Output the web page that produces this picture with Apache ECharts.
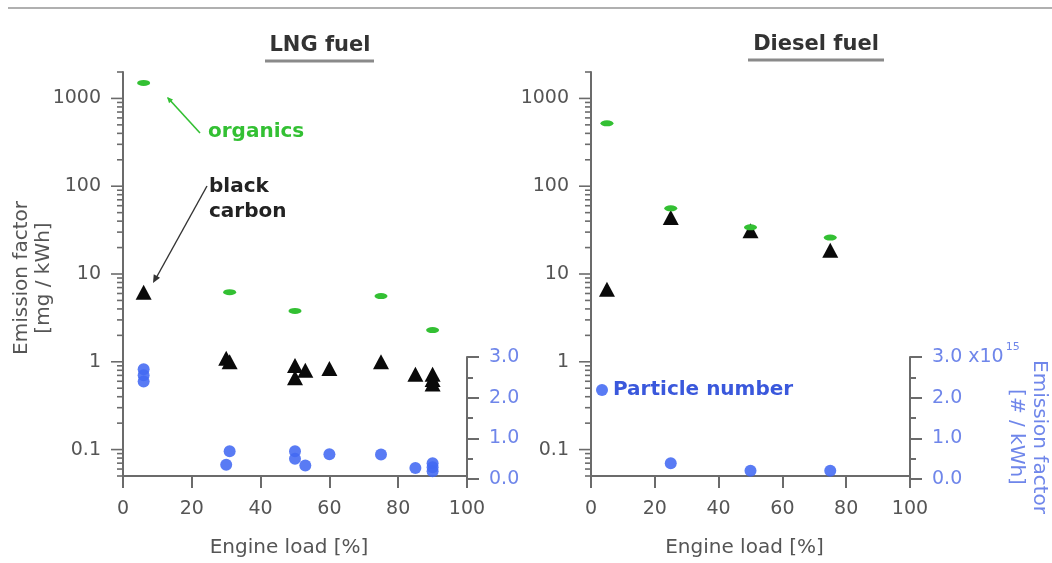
<!DOCTYPE html>
<html><head><meta charset="utf-8">
<script src="https://cdn.jsdelivr.net/npm/echarts@6/dist/echarts.min.js"></script>
<style>html,body{margin:0;padding:0;background:#fff}#c{width:1052px;height:563px}</style>
</head><body><div id="c"></div>
<script>
// ---- data (engine load %, value) ----
const lngOrganics = [[6,1500],[31,6.2],[50,3.8],[75,5.6],[90,2.3]];
const lngBlackCarbon = [[6,6.2],[30,1.1],[31,1.0],[50,0.91],[50,0.66],[53,0.8],[60,0.84],[75,1.0],[85,0.72],[90,0.72],[90,0.63],[90,0.56]];
const lngParticleNumber = [[6,2.7],[6,2.55],[6,2.4],[30,0.35],[31,0.68],[50,0.68],[50,0.5],[53,0.33],[60,0.61],[75,0.6],[85,0.27],[90,0.39],[90,0.29],[90,0.19]];
const dieselOrganics = [[5,520],[25,56],[50,34],[75,26]];
const dieselBlackCarbon = [[5,6.7],[25,44],[50,31],[75,18.6]];
const dieselParticleNumber = [[25,0.39],[50,0.2],[75,0.2]];
// ---- axis tick values ----
const logMajorTicks = [0.1,1,10,100,1000];
const logMinorTicks = [0.05,0.06,0.07,0.08,0.09,0.2,0.3,0.4,0.5,0.6,0.7,0.8,0.9,2,3,4,5,6,7,8,9,20,30,40,50,60,70,80,90,200,300,400,500,600,700,800,900,2000];
const titles = ['LNG fuel','Diesel fuel'];

const FONT = '"DejaVu Sans", Verdana, sans-serif';
const AX = '#6b6b6b', LBL = '#555', BLUE_LBL = '#6f86ea', GREEN = '#33c033', PN = 'rgba(66,105,242,0.88)';

const chart = echarts.init(document.getElementById('c'), null, {renderer:'canvas'});

const grids = [
  {left:123, top:72, width:344, height:407},
  {left:123, top:357, width:344, height:122},
  {left:591, top:72, width:319, height:407},
  {left:591, top:357, width:319, height:122}
];

function mainX(gi){
  return {gridIndex:gi, type:'value', min:0, max:100, interval:20,
    axisLine:{show:true, onZero:false, lineStyle:{color:AX, width:2}},
    axisTick:{show:true, length:12, lineStyle:{color:AX, width:2}},
    axisLabel:{fontSize:19, color:LBL, margin:24, fontFamily:FONT},
    splitLine:{show:false},
    name:'Engine load [%]', nameLocation:'middle', nameGap:62,
    nameTextStyle:{fontSize:20, color:LBL, fontFamily:FONT, padding:[0,12,0,0]}};
}
function hiddenX(gi){ return {gridIndex:gi, type:'value', min:0, max:100, show:false}; }
function logY(gi){
  return {gridIndex:gi, type:'log', logBase:10, min:0.05, max:2000,
    axisLine:{show:true, onZero:false, lineStyle:{color:AX, width:2}},
    axisTick:{show:false},
    axisLabel:{fontSize:19, color:LBL, margin:22, fontFamily:FONT,
      formatter:function(v){const l=Math.log10(v);return Math.abs(l-Math.round(l))<1e-6?String(+v.toPrecision(3)):'';}},
    splitLine:{show:false}};
}
function pnY(gi, sup){
  return {gridIndex:gi, type:'value', min:0, max:3, interval:1, position:'right',
    axisLine:{show:true, onZero:false, lineStyle:{color:AX, width:2}},
    axisTick:{show:true, length:12, lineStyle:{color:AX, width:2}},
    minorTick:{show:true, splitNumber:2, length:6, lineStyle:{color:AX, width:2}},
    axisLabel:{fontSize:19, color:BLUE_LBL, margin:22, fontFamily:FONT,
      formatter:function(v){ if(sup && v===3) return '3.0 x10{sup|15}'; return v.toFixed(1); },
      rich:{sup:{fontSize:11, color:BLUE_LBL, fontFamily:FONT, padding:[0,0,20,2]}}},
    splitLine:{show:false}, minorSplitLine:{show:false}};
}

function tickSeries(xi, yi, vals, len){
  return {type:'custom', xAxisIndex:xi, yAxisIndex:yi, silent:true, clip:false, z:1,
    data: vals.map(v=>[0,v]),
    renderItem:function(params, api){
      const p = api.coord([0, api.value(1)]);
      return {type:'line', shape:{x1:p[0]-len, y1:p[1], x2:p[0], y2:p[1]},
        style:{stroke:AX, lineWidth:1.6}};
    }};
}
function bc(xi, yi, d){ return {name:'black carbon', type:'scatter', xAxisIndex:xi, yAxisIndex:yi, data:d, symbol:'triangle', symbolSize:[16,15], itemStyle:{color:'#0a0a0a', opacity:1}, z:3}; }
function org(xi, yi, d){ return {name:'organics', type:'scatter', xAxisIndex:xi, yAxisIndex:yi, data:d, symbol:'circle', symbolSize:[13,6], itemStyle:{color:GREEN, opacity:1}, z:4}; }
function pn(xi, yi, d){ return {name:'Particle number', type:'scatter', xAxisIndex:xi, yAxisIndex:yi, data:d, symbol:'circle', symbolSize:12, itemStyle:{color:PN, opacity:1}, z:2}; }

function txt(x, y, s, size, color, bold, rot){
  return {type:'text', x:x, y:y, rotation:rot||0, silent:true,
    style:{text:s, fill:color, fontSize:size, fontWeight:bold?'bold':'normal', fontFamily:FONT,
      align:'center', verticalAlign:'middle', textAlign:'center', textVerticalAlign:'middle'}};
}
function ln(x1,y1,x2,y2,color,w){ return {type:'line', silent:true, shape:{x1,y1,x2,y2}, style:{stroke:color, lineWidth:w}}; }
function arrowHead(x1,y1,x2,y2,color,size){
  const dx=x2-x1, dy=y2-y1, L=Math.hypot(dx,dy), ux=dx/L, uy=dy/L;
  const bx=x2-ux*size, by=y2-uy*size, w=size*0.45;
  return {type:'polygon', silent:true, shape:{points:[[x2,y2],[bx-uy*w,by+ux*w],[bx+uy*w,by-ux*w]]}, style:{fill:color}};
}

const option = {
  backgroundColor:'#fff',
  animation:false,
  grid: grids,
  xAxis:[mainX(0), hiddenX(1), mainX(2), hiddenX(3)],
  yAxis:[logY(0), pnY(1,false), logY(2), pnY(3,true)],
  legend:{data:['Particle number'], left:596, top:380, padding:0, icon:'circle', itemWidth:12, itemHeight:12,
    selectedMode:false, textStyle:{fontSize:20, fontWeight:'bold', color:'#3a58dc', fontFamily:FONT}},
  series:[
    tickSeries(0,0,logMajorTicks,12), tickSeries(0,0,logMinorTicks,6),
    tickSeries(2,2,logMajorTicks,12), tickSeries(2,2,logMinorTicks,6),
    bc(0,0,lngBlackCarbon), org(0,0,lngOrganics), pn(1,1,lngParticleNumber),
    bc(2,2,dieselBlackCarbon), org(2,2,dieselOrganics), pn(3,3,dieselParticleNumber)
  ],
  graphic:[
    ln(8,8,1052,8,'#b0b0b0',2),
    txt(320,46,titles[0],21,'#333',true), ln(265,61,374,61,'#8a8a8a',3),
    txt(816,45,titles[1],21,'#333',true), ln(748,60,884,60,'#8a8a8a',3),
    txt(22,278,'Emission factor',20,LBL,false,Math.PI/2),
    txt(44,278,'[mg / kWh]',20,LBL,false,Math.PI/2),
    txt(1039,437,'Emission factor',20,BLUE_LBL,false,-Math.PI/2),
    txt(1016,437,'[# / kWh]',20,BLUE_LBL,false,-Math.PI/2),
    // organics annotation
    ln(200,133,168,98,GREEN,1.6), arrowHead(200,133,167,97,GREEN,6),
    {type:'text', x:208, y:132, silent:true, style:{text:'organics', fill:GREEN, fontSize:20, fontWeight:'bold', fontFamily:FONT, align:'left', verticalAlign:'middle', textAlign:'left', textVerticalAlign:'middle'}},
    // black carbon annotation
    ln(207,186,155,280,'#333',1.4), arrowHead(207,186,153,283,'#333',8),
    {type:'text', x:209, y:187, silent:true, style:{text:'black', fill:'#222', fontSize:20, fontWeight:'bold', fontFamily:FONT, align:'left', verticalAlign:'middle', textAlign:'left', textVerticalAlign:'middle'}},
    {type:'text', x:209, y:212, silent:true, style:{text:'carbon', fill:'#222', fontSize:20, fontWeight:'bold', fontFamily:FONT, align:'left', verticalAlign:'middle', textAlign:'left', textVerticalAlign:'middle'}}
  ]
};
chart.setOption(option);
</script></body></html>
